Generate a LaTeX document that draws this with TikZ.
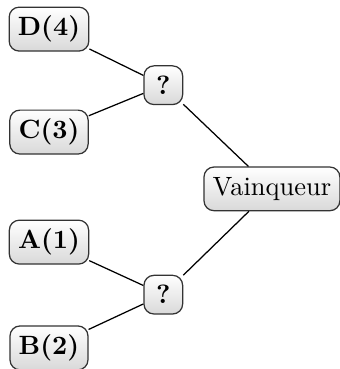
\documentclass[tikz,border=0pt]{standalone}
\usetikzlibrary{shadings}
\begin{document}
\begin{tikzpicture}[x=1cm,y=-1cm,
  box/.style={draw=black!80, line width=0.5pt, rounded corners=4pt, top color=white, bottom color=black!15, inner sep=3.5pt, minimum height=17.5pt, font=\fontsize{10.6pt}{13pt}\selectfont},
  qbox/.style={box, minimum width=15.5pt, minimum height=15.5pt, font=\fontsize{10.6pt}{13pt}\selectfont\bfseries},
  leaf/.style={box, font=\fontsize{10.6pt}{13pt}\selectfont\bfseries},
  link/.style={draw=black, line width=0.5pt}]
\useasboundingbox (0,0) rectangle (4.788,5.197);
\node[leaf] (d) at (0.69,0.41) {D(4)};
\node[leaf] (c) at (0.69,1.86) {C(3)};
\node[qbox] (q1) at (2.30,1.20) {?};
\node[box] (v) at (3.83,2.66) {Vainqueur};
\node[leaf] (a) at (0.69,3.41) {A(1)};
\node[leaf] (b) at (0.69,4.90) {B(2)};
\node[qbox] (q2) at (2.30,4.15) {?};
\path[link] (d) -- (q1);
\path[link] (c) -- (q1);
\path[link] (q1) -- (v);
\path[link] (a) -- (q2);
\path[link] (b) -- (q2);
\path[link] (q2) -- (v);
\end{tikzpicture}
\end{document}
